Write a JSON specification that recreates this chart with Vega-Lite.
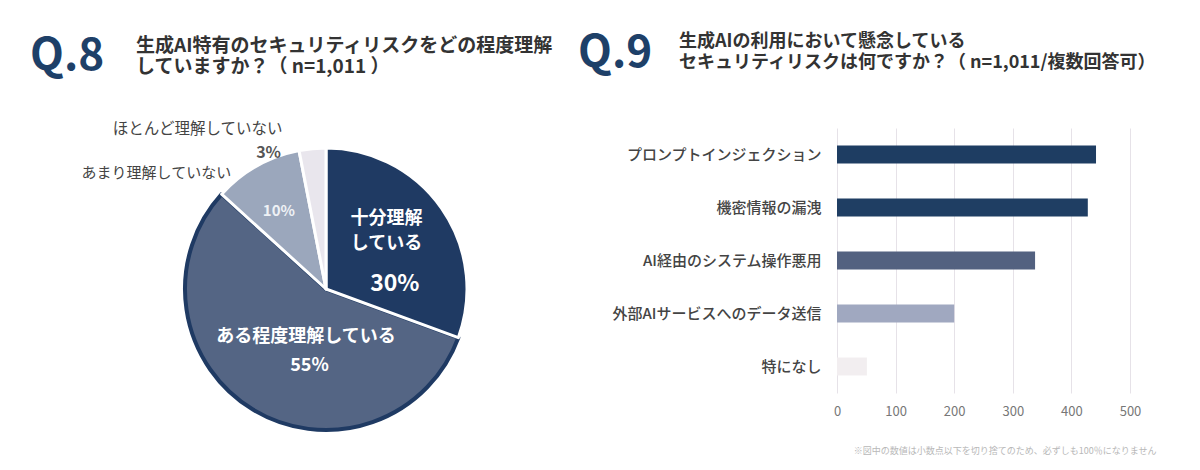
{
  "$schema": "https://vega.github.io/schema/vega-lite/v6.json",
  "background": "white",
  "padding": {"left": 30, "top": 32, "right": 10, "bottom": 5},
  "config": {"view": {"stroke": null}, "font": "Noto Sans CJK JP"},
  "title": {"text": "※図中の数値は小数点以下を切り捨てのため、必ずしも100％になりません", "orient": "bottom", "anchor": "end", "fontSize": 9, "fontWeight": "normal", "color": "#b8b8b8", "offset": -3},
  "spacing": 24,
  "resolve": {"scale": {"color": "independent"}},
  "hconcat": [
    {
      "title": {"text": "Q.8", "anchor": "start", "frame": "group", "fontSize": 44, "fontWeight": "bold", "color": "#1e4068", "offset": -42, "dx": -146},
      "vconcat": [
        {
          "title": {"text": ["生成AI特有のセキュリティリスクをどの程度理解", "していますか？（ n=1,011 ）"], "anchor": "start", "frame": "group", "fontSize": 19, "fontWeight": "bold", "color": "#333333", "lineHeight": 21, "dx": -40, "offset": 45},
          "width": 300,
          "height": 322,
          "data": {"values": [
            {"answer": "ある程度理解している", "pct": 55, "rank": 2, "label": "55%", "disp": "ある程度理解している"},
            {"answer": "十分理解している", "pct": 30, "rank": 1, "label": "30%", "disp": "十分理解\nしている"},
            {"answer": "あまり理解していない", "pct": 10, "rank": 3, "label": "10%", "disp": "あまり理解していない"},
            {"answer": "ほとんど理解していない", "pct": 3, "rank": 4, "label": "3%", "disp": "ほとんど理解していない"}
          ]},
          "encoding": {
            "theta": {"field": "pct", "type": "quantitative", "stack": true},
            "order": {"field": "rank", "type": "quantitative"}
          },
          "layer": [
            {
              "mark": {"type": "arc", "outerRadius": 141, "strokeJoin": "round"},
              "encoding": {
                "color": {"field": "answer", "type": "nominal", "legend": null,
                  "scale": {"domain": ["十分理解している", "ある程度理解している", "あまり理解していない", "ほとんど理解していない"],
                            "range": ["#1f3a63", "#546584", "#9ba7bc", "#e9e6ed"]}},
                "stroke": {"condition": {"test": "datum.answer === 'ある程度理解している'", "value": "#1f3a63"}, "value": "white"},
                "strokeWidth": {"condition": {"test": "datum.answer === 'ある程度理解している'", "value": 4}, "value": 3}
              }
            },
            {
              "mark": {"type": "text", "fontSize": 18, "fontWeight": "bold", "color": "white", "lineBreak": "\n", "lineHeight": 25, "dx": -10, "dy": -21},
              "encoding": {"radius": {"value": 86}, "text": {"condition": {"test": "datum.answer === '十分理解している'", "field": "disp"}, "value": ""}}
            },
            {
              "mark": {"type": "text", "fontSize": 23, "fontWeight": "bold", "color": "white", "dx": 36, "dy": 18},
              "encoding": {"radius": {"value": 40}, "text": {"condition": {"test": "datum.answer === '十分理解している'", "field": "label"}, "value": ""}}
            },
            {
              "mark": {"type": "text", "fontSize": 18, "fontWeight": "bold", "color": "white", "dx": 6, "dy": 5},
              "encoding": {"radius": {"value": 50}, "text": {"condition": {"test": "datum.answer === 'ある程度理解している'", "field": "disp"}, "value": ""}}
            },
            {
              "mark": {"type": "text", "fontSize": 18, "fontWeight": "bold", "color": "white", "dx": 25, "dy": 9},
              "encoding": {"radius": {"value": 80}, "text": {"condition": {"test": "datum.answer === 'ある程度理解している'", "field": "label"}, "value": ""}}
            },
            {
              "mark": {"type": "text", "fontSize": 15, "fontWeight": "bold", "color": "#eef1f5", "dx": -2, "dy": 2},
              "encoding": {"radius": {"value": 92}, "text": {"condition": {"test": "datum.answer === 'あまり理解していない'", "field": "label"}, "value": ""}}
            },
            {
              "mark": {"type": "text", "fontSize": 16, "fontWeight": "bold", "color": "#555555", "dx": -43, "dy": 13},
              "encoding": {"radius": {"value": 150}, "text": {"condition": {"test": "datum.answer === 'ほとんど理解していない'", "field": "label"}, "value": ""}}
            },
            {
              "mark": {"type": "text", "fontSize": 15.5, "fontWeight": "normal", "color": "#444444", "dx": -113, "dy": -1},
              "encoding": {"radius": {"value": 160}, "text": {"condition": {"test": "datum.answer === 'ほとんど理解していない'", "field": "disp"}, "value": ""}}
            },
            {
              "mark": {"type": "text", "fontSize": 15, "fontWeight": "normal", "color": "#444444", "dx": -96, "dy": 15},
              "encoding": {"radius": {"value": 150}, "text": {"condition": {"test": "datum.answer === 'あまり理解していない'", "field": "disp"}, "value": ""}}
            }
          ]
        }
      ]
    },
    {
      "title": {"text": "Q.9", "anchor": "start", "frame": "group", "fontSize": 44, "fontWeight": "bold", "color": "#1e4068", "offset": -43, "dx": -259},
      "vconcat": [
        {
          "title": {"text": ["生成AIの利用において懸念している", "セキュリティリスクは何ですか？（ n=1,011/複数回答可）"], "anchor": "start", "frame": "group", "fontSize": 18, "fontWeight": "bold", "color": "#333333", "lineHeight": 21, "dx": -158, "offset": 56},
          "width": 293,
          "height": 265,
          "data": {"values": [
            {"risk": "プロンプトインジェクション", "count": 442},
            {"risk": "機密情報の漏洩", "count": 428},
            {"risk": "AI経由のシステム操作悪用", "count": 338},
            {"risk": "外部AIサービスへのデータ送信", "count": 200},
            {"risk": "特になし", "count": 51}
          ]},
          "mark": {"type": "bar", "size": 18},
          "encoding": {
            "y": {"field": "risk", "type": "nominal", "sort": null, "title": null,
              "axis": {"domain": false, "ticks": false, "labelFontSize": 15, "labelColor": "#444444", "labelFontWeight": 500, "labelPadding": 16, "labelLimit": 400}},
            "x": {"field": "count", "type": "quantitative", "title": null,
              "scale": {"domain": [0, 500], "nice": false},
              "axis": {"values": [0, 100, 200, 300, 400, 500], "domain": false, "ticks": false, "grid": true, "gridColor": "#e6e2e8", "labelFontSize": 13, "labelColor": "#777777", "labelFontWeight": "normal", "labelPadding": 12, "labelFlush": false}},
            "color": {"field": "risk", "type": "nominal", "legend": null,
              "scale": {"domain": ["プロンプトインジェクション", "機密情報の漏洩", "AI経由のシステム操作悪用", "外部AIサービスへのデータ送信", "特になし"],
                        "range": ["#1e3d62", "#1f3e63", "#536180", "#a0a8c0", "#f2eef0"]}}
          }
        }
      ]
    }
  ]
}
